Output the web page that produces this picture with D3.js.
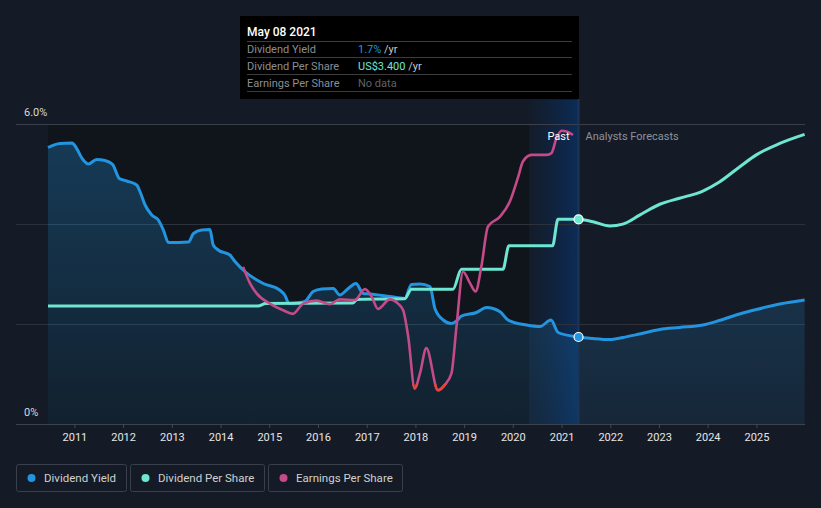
<!DOCTYPE html>
<html>
<head>
<meta charset="utf-8">
<script src="https://cdn.jsdelivr.net/npm/d3@7"></script>
<style>
  html, body { margin: 0; padding: 0; background: #151b26; }
  svg { display: block; font-family: Roboto, "Noto Sans", sans-serif; }
</style>
</head>
<body>
<svg id="chart" width="821" height="508"></svg>
<script>
// ---------- DATA ----------
const yieldDates = ["2010-06-17","2010-09-15","2010-12-16","2011-01-06","2011-03-08","2011-04-15","2011-06-17","2011-08-18","2011-10-15","2011-12-03",
  "2012-01-28","2012-04-12","2012-05-08","2012-06-14","2012-08-03","2012-09-21","2012-10-29","2012-12-06","2013-05-05","2013-06-12",
  "2013-08-13","2013-10-13","2013-11-07","2013-12-14","2014-03-12","2014-04-19","2014-07-02","2014-11-17","2015-03-20","2015-04-27",
  "2015-05-30","2015-07-25","2015-09-25","2015-11-26","2016-01-29","2016-04-25","2016-06-13","2016-08-15","2016-10-12","2016-12-05",
  "2017-01-25","2017-06-23","2017-10-13","2017-12-02","2018-02-04","2018-04-20","2018-05-27","2018-07-28","2018-09-28","2018-11-05",
  "2018-12-12","2019-04-04","2019-06-18","2019-09-25","2019-11-26","2020-04-14","2020-07-23","2020-10-13","2020-12-06","2021-05-08"];
const yieldValues = [5.53,5.61,5.62,5.56,5.28,5.20,5.29,5.27,5.19,4.91,
  4.86,4.78,4.64,4.38,4.18,4.08,3.88,3.63,3.64,3.81,
  3.88,3.89,3.58,3.48,3.38,3.25,3.05,2.81,2.68,2.58,
  2.41,2.42,2.45,2.65,2.70,2.71,2.58,2.71,2.81,2.61,
  2.60,2.55,2.51,2.79,2.80,2.75,2.31,2.08,2.01,2.06,
  2.16,2.23,2.33,2.25,2.08,1.98,1.95,2.08,1.83,1.74];

const dpsDates = ["2010-06-17","2014-10-08","2014-12-05","2016-09-20","2016-10-20","2017-10-13","2017-12-02","2018-10-10","2018-12-12",
  "2019-10-19","2019-12-03","2020-10-25","2020-12-05","2021-05-08"];
const dpsValues = [1.96,1.96,2.00,2.01,2.07,2.08,2.24,2.24,2.57,2.57,2.96,2.96,3.40,3.40];

const epsDates = ["2014-06-19","2014-08-09","2014-09-28","2015-01-06","2015-04-15","2015-06-28","2015-09-12","2015-12-21","2016-03-29","2016-06-13",
  "2016-10-04","2016-12-18","2017-02-08","2017-03-26","2017-06-23","2017-08-24","2017-10-01","2017-11-08","2017-12-27","2018-02-04",
  "2018-03-24","2018-06-19","2018-08-09","2018-09-28","2018-11-05","2018-12-24","2019-02-14","2019-03-28","2019-05-10","2019-06-29",
  "2019-09-25","2019-12-09","2020-02-11","2020-03-17","2020-05-20","2020-09-10","2020-10-17","2020-11-24","2021-01-01","2021-02-08","2021-03-27"];
const epsValues = [2.61,2.34,2.17,2.00,1.89,1.83,2.00,2.05,1.99,2.07,
  2.06,2.24,2.11,1.91,2.07,2.00,1.89,1.45,0.59,0.84,
  1.26,0.56,0.65,0.84,1.62,2.53,2.34,2.20,2.61,3.28,
  3.44,3.69,4.11,4.36,4.47,4.47,4.50,4.75,4.87,4.86,4.80];

const forecastDates = ["2021-05-08","2021-08-24","2021-12-28","2022-04-05","2022-08-09","2023-01-07","2023-06-04","2023-11-26","2024-03-29","2024-08-27","2024-12-31","2025-06-25","2025-12-28"];
const forecastYield = [1.74,1.71,1.69,1.73,1.80,1.89,1.93,1.98,2.07,2.20,2.29,2.40,2.48];
const forecastDPS = [3.40,3.36,3.29,3.32,3.47,3.65,3.75,3.87,4.02,4.27,4.47,4.66,4.81];

const yearTicks = [2011,2012,2013,2014,2015,2016,2017,2018,2019,2020,2021,2022,2023,2024,2025];
const yTickLabels = ["0%","6.0%"];
const legendItems = ["Dividend Yield","Dividend Per Share","Earnings Per Share"];
const tooltipDate = "May 08 2021";
const tooltipRows = [["Dividend Yield","1.7%"],["Dividend Per Share","US$3.400"],["Earnings Per Share","No data"]];

// ---------- SETUP ----------
const parse = d3.timeParse("%Y-%m-%d");
const svg = d3.select("#chart");
const C = { yield: "#2394df", dps: "#6ee6d2", eps: "#c44a88", red: "#e8453a" };
const pL = 48, pR = 805, pT = 124, pB = 424, gridLeft = 16;
const nowDate = parse("2021-05-08");
const pastStart = parse("2020-05-01");

const x = d3.scaleTime().domain([parse("2010-06-17"), parse("2025-12-31")]).range([pL, pR]);
const yY = d3.scaleLinear().domain([0, 6]).range([pB, pT]);
const yD = d3.scaleLinear().domain([0, 4.983]).range([pB, pT]);

const yieldData = yieldDates.map((d, i) => ({ date: parse(d), v: yieldValues[i] }))
  .concat(forecastDates.slice(1).map((d, i) => ({ date: parse(d), v: forecastYield[i + 1] })));
const dpsData = dpsDates.map((d, i) => ({ date: parse(d), v: dpsValues[i] }))
  .concat(forecastDates.slice(1).map((d, i) => ({ date: parse(d), v: forecastDPS[i + 1] })));
const epsData = epsDates.map((d, i) => ({ date: parse(d), v: epsValues[i] }));

const defs = svg.append("defs");
const ag = defs.append("linearGradient").attr("id", "areaGrad").attr("x1", 0).attr("y1", 0).attr("x2", 0).attr("y2", 1);
ag.append("stop").attr("offset", "0%").attr("stop-color", C.yield).attr("stop-opacity", 0.3);
ag.append("stop").attr("offset", "100%").attr("stop-color", C.yield).attr("stop-opacity", 0.1);
const pg = defs.append("linearGradient").attr("id", "pastGrad").attr("x1", 0).attr("y1", 0).attr("x2", 1).attr("y2", 0);
pg.append("stop").attr("offset", "0%").attr("stop-color", "#0c2447").attr("stop-opacity", 0.12);
pg.append("stop").attr("offset", "100%").attr("stop-color", "#0c2d58").attr("stop-opacity", 1);
defs.append("clipPath").attr("id", "redClip").append("rect")
  .attr("x", pL).attr("y", yD(0.67)).attr("width", pR - pL).attr("height", pB - yD(0.67));

// backgrounds
svg.append("rect").attr("x", pL).attr("y", pT).attr("width", x(pastStart) - pL).attr("height", pB - pT).attr("fill", "#10141b");
svg.append("rect").attr("x", x(pastStart)).attr("y", 100).attr("width", x(nowDate) - x(pastStart)).attr("height", pB - 100).attr("fill", "url(#pastGrad)");

// gridlines
[0, 2, 4, 6].forEach(v => {
  svg.append("line").attr("x1", gridLeft).attr("x2", pR).attr("y1", yY(v)).attr("y2", yY(v))
    .attr("stroke", v === 6 ? "#3a3f49" : (v === 0 ? "#3d434d" : "#2c313a")).attr("stroke-width", 1).attr("shape-rendering", "crispEdges");
});

// y labels
svg.append("text").attr("x", 24).attr("y", 116).attr("fill", "#d8d8d8").attr("font-size", 11).text(yTickLabels[1]);
svg.append("text").attr("x", 24).attr("y", 416).attr("fill", "#d8d8d8").attr("font-size", 11).text(yTickLabels[0]);

// x axis
const xAxis = d3.axisBottom(x).tickValues(yearTicks.map(y => new Date(y, 0, 1))).tickFormat(d3.timeFormat("%Y")).tickSize(4).tickPadding(5);
const gx = svg.append("g").attr("transform", `translate(0,${pB})`).call(xAxis);
gx.select(".domain").remove();
gx.selectAll(".tick line").attr("stroke", "#444a54");
gx.selectAll(".tick text").attr("fill", "#e6e6e6").attr("font-size", 11).attr("font-family", "Roboto, sans-serif");

// yield area
const area = d3.area().x(d => x(d.date)).y0(pB).y1(d => yY(d.v)).curve(d3.curveMonotoneX);
svg.append("path").datum(yieldData).attr("d", area).attr("fill", "url(#areaGrad)");

// now line
svg.append("line").attr("x1", x(nowDate)).attr("x2", x(nowDate)).attr("y1", 99).attr("y2", pB)
  .attr("stroke", "#1a3558").attr("stroke-width", 2);

const lineY = d3.line().x(d => x(d.date)).y(d => yY(d.v)).curve(d3.curveMonotoneX);
const lineD = d3.line().x(d => x(d.date)).y(d => yD(d.v)).curve(d3.curveMonotoneX);

svg.append("path").datum(yieldData).attr("d", lineY).attr("fill", "none").attr("stroke", C.yield).attr("stroke-width", 3);
svg.append("path").datum(dpsData).attr("d", lineD).attr("fill", "none").attr("stroke", C.dps).attr("stroke-width", 3);
svg.append("path").datum(epsData).attr("d", lineD).attr("fill", "none").attr("stroke", C.eps).attr("stroke-width", 2.6);
svg.append("path").datum(epsData).attr("d", lineD).attr("fill", "none").attr("stroke", C.red).attr("stroke-width", 2.6).attr("clip-path", "url(#redClip)");

// dots at now
svg.append("circle").attr("cx", x(nowDate)).attr("cy", yD(3.40)).attr("r", 4.5).attr("fill", C.dps).attr("stroke", "#ffffff").attr("stroke-width", 1.2);
svg.append("circle").attr("cx", x(nowDate)).attr("cy", yY(forecastYield[0])).attr("r", 4.5).attr("fill", C.yield).attr("stroke", "#ffffff").attr("stroke-width", 1.2);

// Past / Analysts Forecasts
svg.append("text").attr("x", x(nowDate) - 9).attr("y", 140).attr("text-anchor", "end").attr("fill", "#ffffff").attr("font-size", 11).text("Past");
svg.append("text").attr("x", x(nowDate) + 7).attr("y", 140).attr("fill", "#8d929b").attr("font-size", 11).text("Analysts Forecasts");

// tooltip
const tt = svg.append("g");
tt.append("rect").attr("x", 240).attr("y", 16).attr("width", 339).attr("height", 83).attr("fill", "#000000");
tt.append("text").attr("x", 247).attr("y", 36).attr("fill", "#ffffff").attr("font-size", 12).attr("font-weight", 500).text(tooltipDate);
[41, 57.5, 74.5, 91].forEach(yv => tt.append("line").attr("x1", 247).attr("x2", 572).attr("y1", yv).attr("y2", yv).attr("stroke", "#3c3c3c").attr("stroke-width", 1).attr("shape-rendering", "crispEdges"));
const valColors = [C.yield, C.dps, "#5f6269"];
tooltipRows.forEach((r, i) => {
  const by = 52.5 + i * 17;
  tt.append("text").attr("x", 247).attr("y", by).attr("fill", "#8a8e95").attr("font-size", 11).text(r[0]);
  const t = tt.append("text").attr("x", 358).attr("y", by).attr("font-size", 11);
  t.append("tspan").attr("fill", valColors[i]).text(r[1]);
  if (i < 2) t.append("tspan").attr("fill", "#c8c8c8").text(" /yr");
});

// legend
const legendX = [16, 130, 268], legendW = [110, 134, 134];
legendItems.forEach((name, i) => {
  const g = svg.append("g").attr("transform", `translate(${legendX[i]},464)`);
  g.append("rect").attr("x", 0.5).attr("y", 0.5).attr("width", legendW[i]).attr("height", 27).attr("rx", 2)
    .attr("fill", "none").attr("stroke", "#3a404b");
  g.append("circle").attr("cx", 15.5).attr("cy", 14).attr("r", 4).attr("fill", [C.yield, C.dps, C.eps][i]);
  g.append("text").attr("x", 28).attr("y", 18).attr("fill", "#d0d0d0").attr("font-size", 11.5).text(name);
});
</script>
</body>
</html>
